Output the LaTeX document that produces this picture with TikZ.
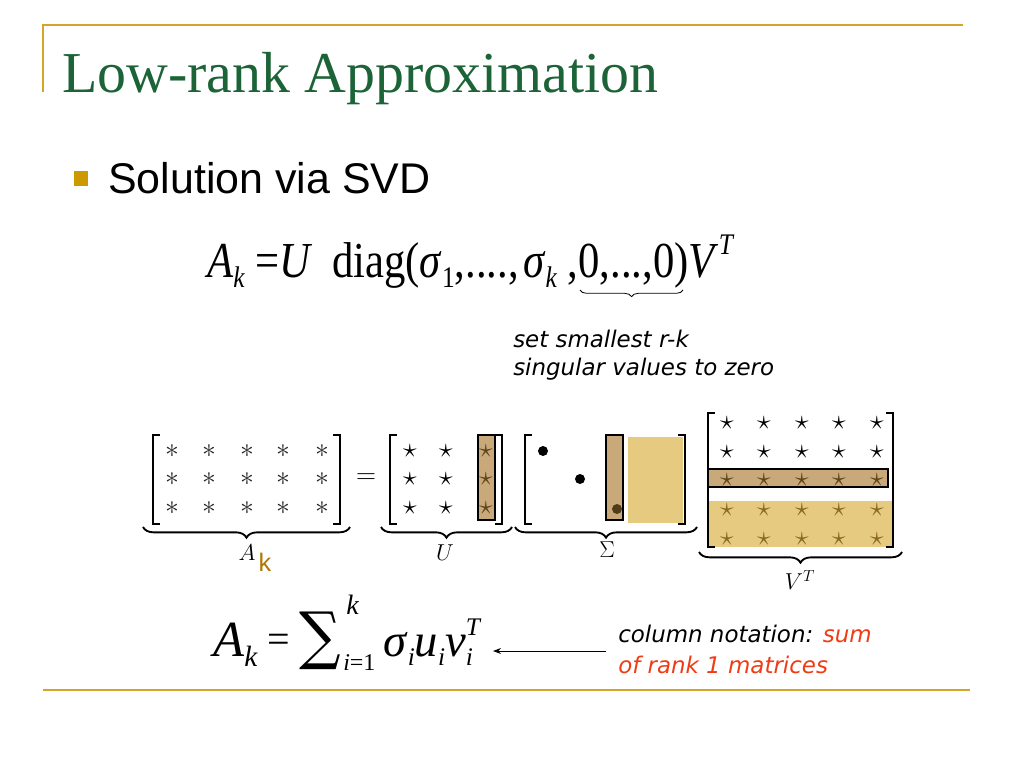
\documentclass[tikz,border=0pt]{standalone}
\usepackage{fontspec}
\usetikzlibrary{decorations.pathreplacing,arrows.meta}
\newfontfamily\ttlfont{Liberation Serif}
\newfontfamily\arialfont{Liberation Sans}
\newfontfamily\notefont{DejaVu Sans}
\newfontfamily\sumfont{DejaVu Serif}
\definecolor{goldline}{RGB}{212,165,40}
\definecolor{bulletgold}{RGB}{204,153,0}
\definecolor{titlegreen}{RGB}{28,100,55}
\definecolor{tanfill}{RGB}{201,169,122}
\definecolor{lightgold}{RGB}{230,202,128}
\definecolor{kgold}{RGB}{176,120,0}
\definecolor{notered}{RGB}{240,60,20}
\definecolor{tanstar}{RGB}{95,70,30}
\definecolor{goldstar}{RGB}{140,105,35}
\newcommand\lsb[1]{\raisebox{-0.2em}{\fontsize{19}{19}\selectfont #1}}
\newcommand\lsp[1]{\raisebox{0.45em}{\fontsize{19}{19}\selectfont #1}}
\tikzset{
  brk/.style={line width=1.5pt},
  ubrace/.style={decorate,decoration={brace,mirror,amplitude=8pt},line width=1.4pt},
  astk/.style={text=black!85,font=\fontsize{22}{22}\selectfont,inner sep=0pt},
  stark/.style={text=black,font=\fontsize{20}{20}\selectfont,inner sep=0pt},
  tanbox/.style={fill=tanfill,draw=black,line width=0.9pt},
  goldbox/.style={fill=lightgold},
  sdot/.style={circle,fill=black,inner sep=0pt,minimum size=7.5pt},
  lbl/.style={inner sep=0pt,font=\fontsize{16}{16}\selectfont},
  note/.style={inner sep=0pt,anchor=base west,font=\notefont\itshape\fontsize{17.2}{17.2}\selectfont},
  eqtext/.style={anchor=base west,inner sep=0pt},
}
\begin{document}
\begin{tikzpicture}[x=0.75pt,y=-0.75pt]
\useasboundingbox[fill=white] (0,0) rectangle (1024,768);
% frame lines
\draw[goldline,line width=1.5pt] (43,92) -- (43,25) -- (963,25);
\draw[goldline,line width=1.5pt] (43,690) -- (970,690);
% title
\node[anchor=base west,inner sep=0pt,text=titlegreen,font=\ttlfont\fontsize{43.4}{44}\selectfont] (title) at (62,92) {Low-rank Approximation};
% bullet
\fill[bulletgold] (74,171) rectangle (88,186);
\node[anchor=base west,inner sep=0pt,font=\arialfont\fontsize{32.2}{33}\selectfont] (bullet) at (108,193) {Solution via SVD};
% equation 1
\node[eqtext,font=\ttlfont\fontsize{32}{34}\selectfont] (eqone) at (207,277)
 {\scalebox{1}[1.18]{\textit{A}\lsb{\textit{k}} =\textit{U}\hspace{0.45em}diag(\textit{σ}\lsb{1},....,\hspace{0.1em}\textit{σ}\lsb{\textit{k}}\ ,0,...,0)\textit{V}\lsp{\textit{T}}}};
\draw[decorate,decoration={brace,mirror,amplitude=5pt},line width=0.6pt] (580,290) -- (683,290);
\node[note] (noteA) at (513,347) {set smallest r-k};
\node[note] (noteB) at (513,375) {singular values to zero};
% matrix A
\foreach \x in {172,209,247,283,322}
  \foreach \y in {451,479,508}
    \node[astk] at (\x,\y) {$\ast$};
\draw[brk] (160,435) -- (153,435) -- (153,524) -- (160,524);
\draw[brk] (333,435) -- (340,435) -- (340,524) -- (333,524);
\draw[ubrace] (143,527) -- (350,527);
\node[lbl] (labA) at (247,553) {$A$};
\node[inner sep=0pt,text=kgold,font=\arialfont\fontsize{19}{19}\selectfont] (labk) at (265,562) {k};
\node[inner sep=0pt,font=\fontsize{20}{20}\selectfont] (eqsign) at (366,479) {$=$};
% matrix U
\draw[tanbox] (478,435) rectangle (495,520);
\foreach \x in {410,446}
  \foreach \y in {451,479,508}
    \node[stark] at (\x,\y) {$\star$};
\foreach \y in {451,479,508}
  \node[stark,text=tanstar] at (486,\y) {$\star$};
\draw[brk] (397,435) -- (390,435) -- (390,524) -- (397,524);
\draw[brk] (495,435) -- (502,435) -- (502,524) -- (495,524);
\draw[ubrace] (381,527) -- (512,527);
\node[lbl] (labU) at (445,553) {$U$};
% matrix Sigma
\draw[tanbox] (606,435) rectangle (623,520);
\fill[goldbox] (628,437) rectangle (683,523);
\node[sdot] (d1) at (543,451) {};
\node[sdot] (d2) at (580,479) {};
\node[sdot,fill=tanstar!85!black] (d3) at (617,509) {};
\draw[brk] (532,435) -- (525,435) -- (525,524) -- (532,524);
\draw[brk] (678,435) -- (685,435) -- (685,524) -- (678,524);
\draw[ubrace] (515,527) -- (697,527);
\node[lbl] (labS) at (607,550) {$\Sigma$};
% matrix V^T
\draw[tanbox] (708,469) rectangle (888,487);
\fill[goldbox] (708,501) rectangle (893,547);
\foreach \x in {727,764,802,839,877} {
  \foreach \y in {423,452}
    \node[stark] at (\x,\y) {$\star$};
  \node[stark,text=tanstar] at (\x,480) {$\star$};
  \foreach \y in {510,539}
    \node[stark,text=goldstar] at (\x,\y) {$\star$};
}
\draw[brk] (715,413) -- (708,413) -- (708,547) -- (715,547);
\draw[brk] (886,413) -- (893,413) -- (893,547) -- (886,547);
\draw[ubrace] (699,552) -- (902,552);
\node[lbl,font=\fontsize{17}{17}\selectfont] (labV) at (800,580) {$V^T$};
% equation 2
\node[eqtext,font=\ttlfont\fontsize{38}{40}\selectfont] (eqtwoA) at (213,656)
 {\textit{A}\raisebox{-0.2em}{\fontsize{22}{22}\selectfont\textit{k}}};
\node[inner sep=0pt,font=\ttlfont\fontsize{30}{30}\selectfont] (eqtwoEq) at (279,643) {=};
\node[inner sep=0pt,font=\sumfont\fontsize{38}{40}\selectfont] (sumsym) at (320,641) {\scalebox{1.15}[1.25]{∑}};
\node[eqtext,font=\ttlfont\fontsize{21}{21}\selectfont] (sumup) at (346,614) {\textit{k}};
\node[eqtext,font=\ttlfont\fontsize{18}{18}\selectfont] (sumlo) at (343,670) {\textit{i}=1};
\node[eqtext,font=\ttlfont\fontsize{35}{37}\selectfont] (eqtwoB) at (383,656)
 {\textit{σ}\lsb{\textit{i}}\textit{u}\lsb{\textit{i}}\textit{v}\rlap{\lsb{\textit{i}}}\lsp{\textit{T}}};
\coordinate (arrtail) at (606,651);
\coordinate (arrtip) at (493,651);
\draw[-{Stealth[length=6pt,width=4.5pt]},line width=0.75pt] (arrtail) -- (arrtip);
\node[note] (noteC) at (618,642) {column notation: \textcolor{notered}{sum}};
\node[note,text=notered] (noteD) at (618,673) {of rank 1 matrices};
\end{tikzpicture}
\end{document}
